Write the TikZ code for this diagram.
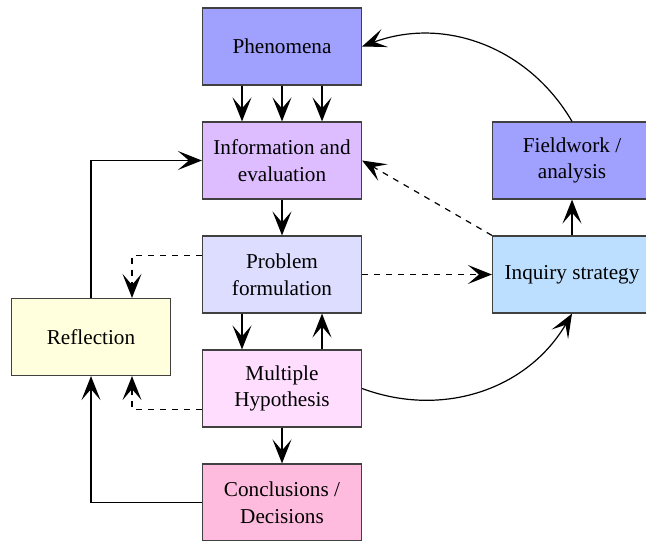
\documentclass[tikz,border=0pt]{standalone}
\usepackage{fontspec}
\setmainfont{Liberation Serif}
\usetikzlibrary{arrows.meta}

\definecolor{phencol}{HTML}{A0A0FF}
\definecolor{infocol}{HTML}{DDBDFF}
\definecolor{probcol}{HTML}{DDDDFF}
\definecolor{hypcol}{HTML}{FFDDFF}
\definecolor{conccol}{HTML}{FFBBDD}
\definecolor{reflcol}{HTML}{FFFFDD}
\definecolor{inqcol}{HTML}{BDDFFF}
\definecolor{edgecol}{HTML}{404040}

\tikzset{
    stagebox/.style={draw=edgecol, line width=0.6pt, minimum width=79.5pt,
        minimum height=38.5pt, align=center, inner sep=2pt,
        font=\fontsize{10.6}{13.3}\selectfont},
    flow/.style={line width=0.6pt, -{Stealth[length=12pt, width=9.5pt, inset=5.5pt]}},
    loose/.style={flow, dashed}
}

\begin{document}
\begin{tikzpicture}[x=0.5pt, y=-0.5pt]
        \useasboundingbox (0,0) rectangle (646,540);
        \clip (0,0) rectangle (646,540);

        % 1. The stages (Nodes)
        % Middle column
        \node[stagebox, fill=phencol] (phen) at (282, 46.5)  {Phenomena};
        \node[stagebox, fill=infocol] (info) at (282, 160.5) {Information and\\evaluation};
        \node[stagebox, fill=probcol] (prob) at (282, 274.5) {Problem\\formulation};
        \node[stagebox, fill=hypcol]  (hyp)  at (282, 388.5) {Multiple\\Hypothesis};
        \node[stagebox, fill=conccol] (conc) at (282, 502.5) {Conclusions /\\Decisions};

        % Left side
        \node[stagebox, fill=reflcol] (refl) at (91, 337) {Reflection};

        % Right side (cut off by the page edge)
        \node[stagebox, fill=phencol] (field) at (572, 160.5) {Fieldwork /\\analysis};
        \node[stagebox, fill=inqcol]  (inq)   at (572, 274.5) {Inquiry strategy};

        % 2. The connections (Arrows)
        \begin{scope}[black]
            % Down the middle column
            \foreach \dx in {-20pt, 0pt, 20pt}
                \draw[flow] ([xshift=\dx]phen.south) -- ([xshift=\dx]info.north);
            \draw[flow] (info.south) -- (prob.north);
            \draw[flow] ([xshift=-20pt]prob.south) -- ([xshift=-20pt]hyp.north);
            \draw[flow] ([xshift=20pt]hyp.north) -- ([xshift=20pt]prob.south);
            \draw[flow] (hyp.south) -- (conc.north);

            % Loop through the reflection box
            \draw[flow] (refl.north) |- (info.west);
            \draw[loose] ([yshift=9.5pt]prob.west) -| ([xshift=20.5pt]refl.north);
            \draw[loose] ([yshift=-10.5pt]hyp.west) -| ([xshift=20.5pt]refl.south);
            \draw[flow] (conc.west) -| (refl.south);

            % Over to the inquiry side
            \draw[loose] (prob.east) -- (inq.west);
            \draw[loose] (inq.north west) -- (info.east);
            \draw[flow] (inq.north) -- (field.south);

            % The two bends
            \draw[flow] (field.north) to[bend right=40] (phen.east);
            \draw[flow] (hyp.east) to[bend right=40] (inq.south);
        \end{scope}

    \end{tikzpicture}
\end{document}
